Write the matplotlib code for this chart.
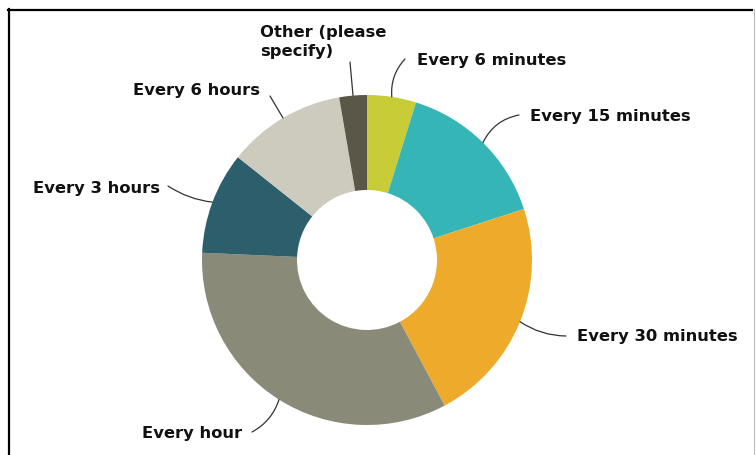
import os
import matplotlib
import matplotlib.pyplot as plt
from matplotlib.font_manager import FontProperties
import numpy as np

# survey answers: how often do you check
labels = ['Every 6 minutes', 'Every 15 minutes', 'Every 30 minutes', 'Every hour',
          'Every 3 hours', 'Every 6 hours', 'Other (please\nspecify)']
shares = [4.8, 15.2, 22.2, 33.5, 10.0, 11.6, 2.7]
colors = ['#c8cd37', '#36b5b6', '#eeab2b', '#898a78', '#2c5e6b', '#cdcbbd', '#5b5748']

W, H = 756, 456
cx, cy = 367, 261          # donut centre (pixels, y down)
r_out, r_in = 165, 70

# where each label text sits (pixels, y down), its alignment and the leader end
label_pos = [(417, 60, 'left', 405, 60),
             (530, 117, 'left', 519, 116),
             (577, 337, 'left', 566, 337),
             (242, 434, 'right', 252, 433),
             (160, 189, 'right', 168, 187),
             (260, 90, 'right', 270, 97),
             (260, 42, 'left', 350, 63)]
leader_rad = [0.22, 0.25, -0.15, 0.2, 0.12, 0.0, 0.0]

bold_ttf = os.path.join(matplotlib.get_data_path(), 'fonts', 'ttf', 'DejaVuSans-Bold.ttf')
label_font = FontProperties(fname=bold_ttf, size=11.8)


def px(x, y):
    return x, H - y


fig = plt.figure(figsize=(W / 100, H / 100), dpi=100)
ax = fig.add_axes([0, 0, 1, 1])

ax.pie(shares, colors=colors, startangle=90, counterclock=False,
       center=px(cx, cy), radius=r_out,
       wedgeprops=dict(width=r_out - r_in, linewidth=0))

# leader lines start at the middle of each wedge's outer edge
total = sum(shares)
bounds = np.cumsum([0] + shares) / total
for i, lab in enumerate(labels):
    mid = (bounds[i] + bounds[i + 1]) / 2 * 2 * np.pi
    sx = cx + r_out * np.sin(mid)
    sy = cy - r_out * np.cos(mid)
    tx, ty, ha, ex, ey = label_pos[i]
    ax.annotate('', xy=px(sx, sy), xytext=px(ex, ey),
                arrowprops=dict(arrowstyle='-', color='#333333', lw=0.9,
                                shrinkA=0, shrinkB=0,
                                connectionstyle=f'arc3,rad={leader_rad[i]}'))
    ax.text(*px(tx, ty), lab, ha=ha, va='center', fontproperties=label_font,
            color='#111111', linespacing=1.35)

ax.set_xlim(0, W)
ax.set_ylim(0, H)
ax.set_aspect('equal')
ax.axis('off')

# frame around the chart area
fig.add_artist(plt.Line2D([8 / W, 752 / W], [1 - 10.5 / H, 1 - 10.5 / H],
                          color='black', lw=1.6))
fig.add_artist(plt.Line2D([8.5 / W, 8.5 / W], [0, 1 - 10 / H],
                          color='black', lw=1.6))
fig.add_artist(plt.Line2D([753.5 / W, 753.5 / W], [0, 1 - 10 / H],
                          color='#bbbbbb', lw=0.8))

fig.savefig('out.png', dpi=100)
